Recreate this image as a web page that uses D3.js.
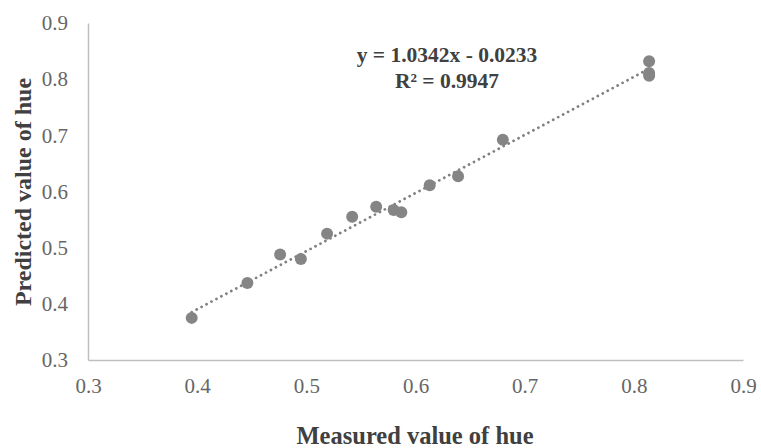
<!DOCTYPE html>
<html><head><meta charset="utf-8">
<script src="https://cdn.jsdelivr.net/npm/d3@7"></script>
<style>
html,body{margin:0;padding:0;background:#fff;}
svg{display:block;font-family:"Liberation Serif","Times New Roman",serif;}
</style></head>
<body>
<svg id="chart" width="761" height="448"></svg>
<script>
const measured  = [0.395, 0.446, 0.476, 0.495, 0.519, 0.542, 0.564, 0.580, 0.587, 0.613, 0.639, 0.680, 0.814, 0.814, 0.814];
const predicted = [0.375, 0.437, 0.488, 0.480, 0.525, 0.555, 0.573, 0.567, 0.563, 0.611, 0.627, 0.692, 0.832, 0.811, 0.806];
const xTicks = [0.3, 0.4, 0.5, 0.6, 0.7, 0.8, 0.9];
const yTicks = [0.3, 0.4, 0.5, 0.6, 0.7, 0.8, 0.9];
const slope = 1.0342, intercept = -0.0233;
const eqLine1 = "y = 1.0342x - 0.0233";
const eqLine2 = "R² = 0.9947";
const xTitle = "Measured value of hue";
const yTitle = "Predicted value of hue";

const svg = d3.select("#chart");
const x = d3.scaleLinear().domain([0.3, 0.9]).range([88, 743]);
const y = d3.scaleLinear().domain([0.3, 0.9]).range([360, 23]);

// axes
const xAxis = svg.append("g").attr("transform", `translate(0,${y(0.3)})`)
  .call(d3.axisBottom(x).tickValues(xTicks).tickSize(0).tickPadding(18).tickFormat(d3.format(".1f")));
const yAxis = svg.append("g").attr("transform", `translate(${x(0.3)},0)`)
  .call(d3.axisLeft(y).tickValues(yTicks).tickSize(0).tickPadding(20).tickFormat(d3.format(".1f")));
[xAxis, yAxis].forEach(a => {
  a.attr("font-family", '"Liberation Serif", "Times New Roman", serif').attr("font-size", 21);
  a.select(".domain").attr("stroke", "#bfbfbf").attr("stroke-width", 1.5);
  a.selectAll("text").attr("fill", "#666");
});

// trend line
const xr = d3.extent(measured);
svg.append("line")
  .attr("x1", x(xr[0])).attr("y1", y(slope * xr[0] + intercept))
  .attr("x2", x(xr[1])).attr("y2", y(slope * xr[1] + intercept))
  .attr("stroke", "#808080").attr("stroke-width", 2.8)
  .attr("stroke-linecap", "round").attr("stroke-dasharray", "0.01 5.6");

// points
svg.append("g").selectAll("circle").data(measured).join("circle")
  .attr("cx", (d) => x(d)).attr("cy", (d, i) => y(predicted[i]))
  .attr("r", 6).attr("fill", "#858585");

// equation
svg.append("text").attr("x", 447).attr("y", 62).attr("text-anchor", "middle")
  .attr("font-weight", "bold").attr("font-size", 21.5).attr("fill", "#404040").text(eqLine1);
svg.append("text").attr("x", 447).attr("y", 88).attr("text-anchor", "middle")
  .attr("font-weight", "bold").attr("font-size", 21.5).attr("fill", "#404040").text(eqLine2);

// axis titles
svg.append("text").attr("x", 415).attr("y", 444).attr("text-anchor", "middle")
  .attr("font-weight", "bold").attr("font-size", 24.5).attr("fill", "#404040").text(xTitle);
svg.append("text").attr("transform", "translate(31,192) rotate(-90)").attr("text-anchor", "middle")
  .attr("font-weight", "bold").attr("font-size", 24).attr("fill", "#404040").text(yTitle);
</script>
</body></html>
